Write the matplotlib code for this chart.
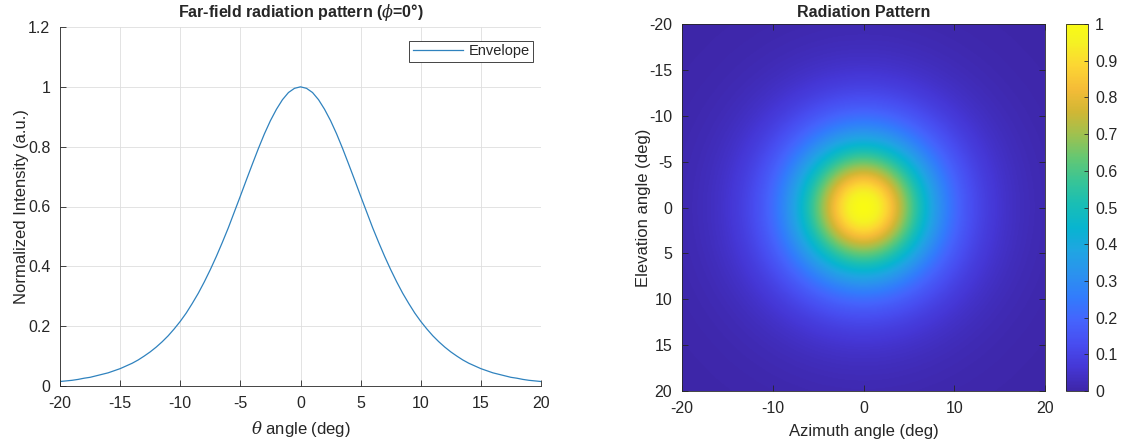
#!/usr/bin/env python3
"""Far-field envelope (line) and 2-D radiation pattern (image), MATLAB look."""

import matplotlib
matplotlib.use("Agg")
import matplotlib.pyplot as plt
import numpy as np
from matplotlib.colors import LinearSegmentedColormap

# ---- data ----
# normalized intensity at 0, 0.5, 1, ... 20 deg (curve is symmetric)
envelope_half = [1.000, 0.995, 0.981, 0.957, 0.925, 0.887, 0.843, 0.794, 0.742, 0.689,
                 0.635, 0.582, 0.529, 0.480, 0.433, 0.389, 0.348, 0.310, 0.276, 0.244,
                 0.216, 0.191, 0.168, 0.148, 0.130, 0.114, 0.100, 0.087, 0.076, 0.067,
                 0.058, 0.051, 0.044, 0.039, 0.034, 0.029, 0.026, 0.022, 0.019, 0.017,
                 0.015]
theta_half = [i * 0.5 for i in range(41)]
theta_deg = [-t for t in theta_half[:0:-1]] + theta_half
envelope = envelope_half[:0:-1] + envelope_half

# radial profile of the 2-D pattern (deg -> intensity), out to the corners
radius_deg = theta_half + [21, 22, 23, 24, 25, 26, 27, 28, 29]
radial_profile = envelope_half + [0.011, 0.0085, 0.0064, 0.0048, 0.0036, 0.0027, 0.0021, 0.0016, 0.0012]

az_ticks = [-20, -10, 0, 10, 20]
el_ticks = [-20, -15, -10, -5, 0, 5, 10, 15, 20]
cbar_ticks = [0, 0.1, 0.2, 0.3, 0.4, 0.5, 0.6, 0.7, 0.8, 0.9, 1]
cbar_labels = ["0", "0.1", "0.2", "0.3", "0.4", "0.5", "0.6", "0.7", "0.8", "0.9", "1"]

# parula-like colormap
parula = LinearSegmentedColormap.from_list("parula", [
    (0.000, (0.2422, 0.1504, 0.6603)),
    (0.063, (0.2706, 0.2147, 0.8364)),
    (0.127, (0.2813, 0.3006, 0.9414)),
    (0.190, (0.2699, 0.3892, 0.9906)),
    (0.254, (0.1963, 0.4847, 0.9892)),
    (0.317, (0.1687, 0.5703, 0.9359)),
    (0.381, (0.1248, 0.6459, 0.8883)),
    (0.444, (0.0297, 0.7082, 0.8163)),
    (0.508, (0.0964, 0.7444, 0.7120)),
    (0.571, (0.2161, 0.7697, 0.5923)),
    (0.635, (0.3909, 0.7815, 0.4515)),
    (0.698, (0.6174, 0.7583, 0.3143)),
    (0.762, (0.8203, 0.7155, 0.2042)),
    (0.825, (0.9611, 0.7379, 0.2172)),
    (0.889, (0.9900, 0.8400, 0.2000)),
    (0.952, (0.9608, 0.9475, 0.1392)),
    (1.000, (0.9769, 0.9839, 0.0805)),
])

TXT = (0.15, 0.15, 0.15)
plt.rcParams["font.family"] = ["Liberation Sans", "DejaVu Sans"]
plt.rcParams["mathtext.fontset"] = "dejavuserif"
plt.rcParams["axes.unicode_minus"] = False
plt.rcParams["font.size"] = 11.5
plt.rcParams["text.color"] = TXT
plt.rcParams["axes.labelcolor"] = TXT
plt.rcParams["xtick.color"] = TXT
plt.rcParams["ytick.color"] = TXT


def matlab_axes(ax, box=True):
    for s in ax.spines.values():
        s.set_color(TXT)
        s.set_linewidth(0.6)
    if not box:
        ax.spines["top"].set_visible(False)
        ax.spines["right"].set_visible(False)
    ax.tick_params(direction="in", length=4, width=0.6, labelsize=11.5, pad=7,
                   top=box, right=box)


fig = plt.figure(figsize=(11.21, 4.43), dpi=100)
W, H = 1121, 443

# ---- left: envelope ----
ax1 = fig.add_axes([60 / W, (H - 386) / H, (541 - 60) / W, (386 - 27) / H])
ax1.plot(theta_deg, envelope, color="#2F82BE", linewidth=0.9, label="Envelope")
ax1.set_xlim(-20, 20)
ax1.set_ylim(0, 1.2)
ax1.set_xticks(range(-20, 21, 5))
ax1.set_yticks([0, 0.2, 0.4, 0.6, 0.8, 1, 1.2])
ax1.set_yticklabels(["0", "0.2", "0.4", "0.6", "0.8", "1", "1.2"])
ax1.grid(True, color=(0.87, 0.87, 0.87), linewidth=0.6)
ax1.set_axisbelow(True)
matlab_axes(ax1, box=False)
ax1.set_xlabel(r"$\theta$ angle (deg)", fontsize=12, labelpad=6)
ax1.set_ylabel("Normalized Intensity (a.u.)", fontsize=12, labelpad=-1)
ax1.set_title(r"Far-field radiation pattern ($\phi$=0°)", fontsize=11.5, fontweight="bold", pad=7)
leg = ax1.legend(loc="upper right", fontsize=10.5, fancybox=False, framealpha=1,
                 edgecolor=TXT, handlelength=3.4, borderpad=0.25, handletextpad=0.4,
                 borderaxespad=0, bbox_to_anchor=(0.984, 0.962))
leg.get_frame().set_linewidth(0.6)

# ---- right: 2-D pattern ----
az = np.linspace(-20, 20, 401)
el = np.linspace(-20, 20, 401)
AZ, EL = np.meshgrid(az, el)
R = np.hypot(AZ, EL)
pattern = np.interp(R, radius_deg, radial_profile)

ax2 = fig.add_axes([682 / W, (H - 391) / H, (1045 - 682) / W, (391 - 24) / H])
im = ax2.imshow(pattern, cmap=parula, vmin=0, vmax=1, extent=[-20, 20, 20, -20],
                aspect="auto", interpolation="bilinear")
ax2.set_xticks(az_ticks)
ax2.set_yticks(el_ticks)
matlab_axes(ax2)
ax2.set_xlabel("Azimuth angle (deg)", fontsize=12, labelpad=6)
ax2.set_ylabel("Elevation angle (deg)", fontsize=12, labelpad=-1)
ax2.set_title("Radiation Pattern", fontsize=11.5, fontweight="bold", pad=5)

cax = fig.add_axes([1066 / W, (H - 391) / H, 22 / W, (391 - 24) / H])
cb = fig.colorbar(im, cax=cax)
cb.set_ticks(cbar_ticks)
cb.set_ticklabels(cbar_labels)
cb.outline.set_linewidth(0.6)
cb.outline.set_edgecolor(TXT)
cax.tick_params(direction="in", length=3, width=0.6, labelsize=11.5, pad=5)

fig.savefig("out.png", dpi=100)
